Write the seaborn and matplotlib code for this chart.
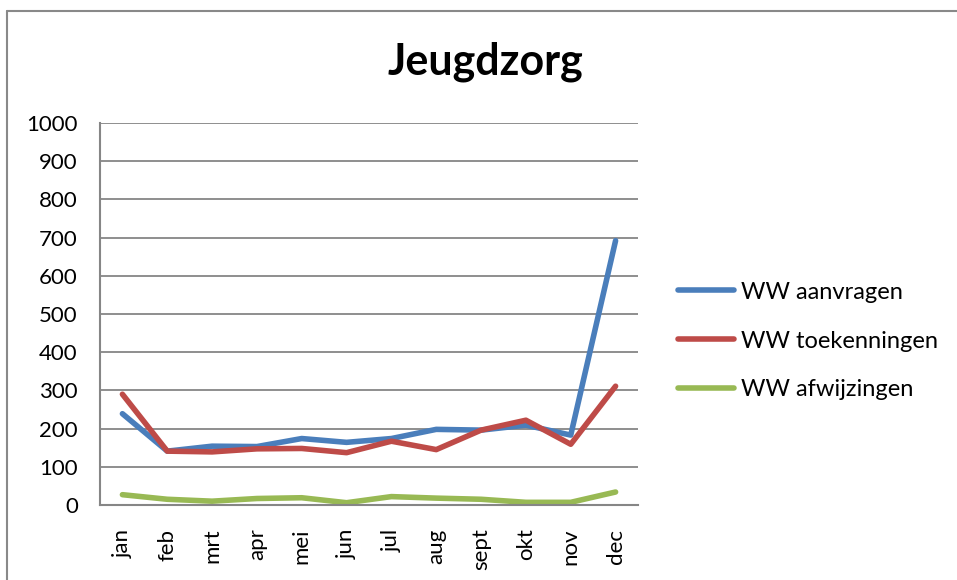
import matplotlib
matplotlib.use("Agg")
import matplotlib.pyplot as plt
import seaborn as sns
import pandas as pd
import numpy as np

months = ["jan", "feb", "mrt", "apr", "mei", "jun", "jul", "aug", "sept", "okt", "nov", "dec"]
aanvragen = [239, 141, 154, 153, 174, 164, 174, 198, 196, 209, 183, 692]
toekenningen = [290, 141, 139, 147, 148, 137, 167, 145, 196, 222, 159, 311]
afwijzingen = [27, 15, 10, 17, 19, 6, 22, 18, 15, 7, 7, 34]
series_names = ["WW aanvragen", "WW toekenningen", "WW afwijzingen"]
colors = ["#4a7ebb", "#be4b48", "#98b954"]

sns.set_theme(style="white")
plt.rcParams["font.family"] = ["Lato", "DejaVu Sans"]
plt.rcParams["text.color"] = "black"
plt.rcParams["xtick.color"] = "black"
plt.rcParams["ytick.color"] = "black"

df = pd.DataFrame({
    "maand": months * 3,
    "pos": list(range(12)) * 3,
    "waarde": aanvragen + toekenningen + afwijzingen,
    "serie": [series_names[0]] * 12 + [series_names[1]] * 12 + [series_names[2]] * 12,
})

fig = plt.figure(figsize=(9.57, 5.8), dpi=100)
ax = fig.add_axes([100 / 957, 1 - 505 / 580, 538 / 957, 382 / 580])

sns.lineplot(data=df, x="pos", y="waarde", hue="serie", palette=colors,
             linewidth=4, ax=ax, legend=True, sort=False)

ax.set_xlim(-0.5, 11.5)
ax.set_ylim(0, 1000)
ax.set_yticks(np.arange(0, 1001, 100))
ax.set_yticklabels([str(v) for v in range(0, 1001, 100)], fontsize=16)
ax.set_xticks(np.arange(12))
ax.set_xticklabels(months, rotation=90, fontsize=16)
ax.set_xticks(np.arange(-0.5, 12, 1), minor=True)
ax.tick_params(axis="x", which="major", length=0, pad=17)
ax.tick_params(axis="x", which="minor", length=7, width=1.5, color="#868686", direction="out")
ax.tick_params(axis="y", which="major", length=7, width=1.5, color="#868686", direction="out", pad=9)
ax.grid(axis="y", color="#868686", linewidth=1.3)
ax.set_axisbelow(True)
for s in ["top", "right"]:
    ax.spines[s].set_visible(False)
for s in ["left", "bottom"]:
    ax.spines[s].set_color("#868686")
    ax.spines[s].set_linewidth(1.5)
ax.set_xlabel("")
ax.set_ylabel("")

fig.text(485 / 957, 1 - 75 / 580, "Jeugdzorg", ha="center", va="baseline",
         fontsize=31, fontweight="bold")

handles, labels = ax.get_legend_handles_labels()
ax.legend(handles, labels, loc="center left", bbox_to_anchor=(657 / 957, 1 - 341 / 580),
          bbox_transform=fig.transFigure, frameon=False, fontsize=17,
          handlelength=2.35, handletextpad=0.3, labelspacing=1.18)

fig.add_artist(plt.Line2D([7 / 957, 1.0], [1 - 10.5 / 580, 1 - 10.5 / 580],
                          transform=fig.transFigure, color="#898989", linewidth=1.5))
fig.add_artist(plt.Line2D([7 / 957, 7 / 957], [0, 1 - 10.5 / 580],
                          transform=fig.transFigure, color="#898989", linewidth=1.5))

fig.savefig("out.png", dpi=100)
